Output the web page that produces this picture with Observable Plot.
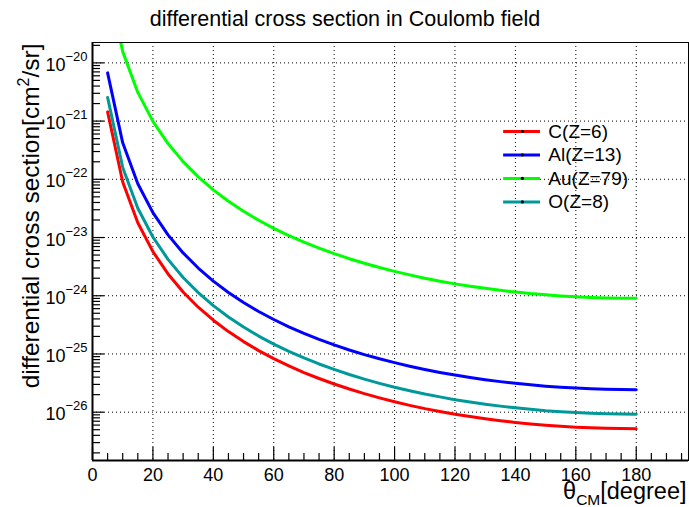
<!DOCTYPE html>
<html>
<head>
<meta charset="utf-8">
<script src="https://cdn.jsdelivr.net/npm/d3@7"></script>
<script src="https://cdn.jsdelivr.net/npm/@observablehq/plot@0.6"></script>
<style>
  html, body { margin: 0; padding: 0; background: #fff; }
</style>
</head>
<body>
<div id="chart"></div>
<script>
// Scattering angle in the centre-of-mass frame (degrees)
const theta = [5, 10, 15, 20, 25, 30, 35, 40, 45, 50, 55, 60, 65, 70, 75, 80, 85, 90,
  95, 100, 105, 110, 115, 120, 125, 130, 135, 140, 145, 150, 155, 160, 165, 170, 175, 180];

// Differential cross sections (cm^2/sr) for each target
const sigmaC = [1.44e-21, 9.01e-23, 1.79e-23, 5.72e-24, 2.37e-24, 1.16e-24, 6.36e-25, 3.80e-25, 2.42e-25, 1.63e-25,
  1.14e-25, 8.32e-26, 6.24e-26, 4.80e-26, 3.79e-26, 3.05e-26, 2.50e-26, 2.08e-26, 1.76e-26, 1.51e-26,
  1.31e-26, 1.15e-26, 1.03e-26, 9.24e-27, 8.40e-27, 7.71e-27, 7.14e-27, 6.67e-27, 6.29e-27, 5.97e-27,
  5.72e-27, 5.53e-27, 5.38e-27, 5.28e-27, 5.22e-27, 5.20e-27];
const sigmaAl = [6.74e-21, 4.23e-22, 8.41e-23, 2.68e-23, 1.11e-23, 5.44e-24, 2.99e-24, 1.78e-24, 1.14e-24, 7.65e-25,
  5.37e-25, 3.91e-25, 2.93e-25, 2.26e-25, 1.78e-25, 1.43e-25, 1.17e-25, 9.76e-26, 8.26e-26, 7.09e-26,
  6.16e-26, 5.42e-26, 4.82e-26, 4.34e-26, 3.94e-26, 3.62e-26, 3.35e-26, 3.13e-26, 2.95e-26, 2.80e-26,
  2.69e-26, 2.60e-26, 2.53e-26, 2.48e-26, 2.45e-26, 2.44e-26];
const sigmaAu = [2.49e-19, 1.56e-20, 3.11e-21, 9.91e-22, 4.11e-22, 2.01e-22, 1.10e-22, 6.59e-23, 4.20e-23, 2.83e-23,
  1.98e-23, 1.44e-23, 1.08e-23, 8.33e-24, 6.56e-24, 5.28e-24, 4.33e-24, 3.61e-24, 3.05e-24, 2.62e-24,
  2.28e-24, 2.00e-24, 1.78e-24, 1.60e-24, 1.46e-24, 1.34e-24, 1.24e-24, 1.16e-24, 1.09e-24, 1.04e-24,
  9.92e-25, 9.58e-25, 9.33e-25, 9.15e-25, 9.05e-25, 9.02e-25];
const sigmaO = [2.55e-21, 1.60e-22, 3.19e-23, 1.02e-23, 4.21e-24, 2.06e-24, 1.13e-24, 6.76e-25, 4.31e-25, 2.90e-25,
  2.03e-25, 1.48e-25, 1.11e-25, 8.54e-26, 6.73e-26, 5.42e-26, 4.44e-26, 3.70e-26, 3.13e-26, 2.68e-26,
  2.33e-26, 2.05e-26, 1.83e-26, 1.64e-26, 1.49e-26, 1.37e-26, 1.27e-26, 1.19e-26, 1.12e-26, 1.06e-26,
  1.02e-26, 9.83e-27, 9.57e-27, 9.39e-27, 9.28e-27, 9.24e-27];

const seriesNames = ["C(Z=6)", "Al(Z=13)", "Au(Z=79)", "O(Z=8)"];
const seriesColors = ["#ff0000", "#0000ff", "#00ff00", "#009999"];
const seriesValues = [sigmaC, sigmaAl, sigmaAu, sigmaO];

// Axis ticks and labels
const xTicks = [0, 20, 40, 60, 80, 100, 120, 140, 160, 180];
const xTickLabels = ["0", "20", "40", "60", "80", "100", "120", "140", "160", "180"];
const yDecades = [-26, -25, -24, -23, -22, -21, -20];
const yTickExponents = ["\u221226", "\u221225", "\u221224", "\u221223", "\u221222", "\u221221", "\u221220"];

const titleText = "differential cross section in Coulomb field";
const xTitle = "\u03b8CM[degree]";
const yTitle = "differential cross section[cm2/sr]";

// ---- layout ----
const W = 689, H = 507;
const mL = 92, mR = 1, mT = 42, mB = 47;
const frameW = W - mL - mR, frameH = H - mT - mB;
const xDomain = [0, 197.3];
const yDomain = [10 ** -26.83, 10 ** -19.65];

const xMinor = d3.range(5, 200, 5).filter(v => v % 20 !== 0);
const yMinor = [];
for (let e = -27; e <= -20; e++) for (let m = 2; m <= 9; m++) {
  const v = m * 10 ** e;
  if (v > yDomain[0] && v < yDomain[1]) yMinor.push(v);
}
const yMajor = yDecades.map(e => 10 ** e);

// legend placement in data coordinates (upper right of the frame)
const legendLogTop = -21.178, legendStep = 0.4036;
const legendY = seriesNames.map((_, i) => 10 ** (legendLogTop - legendStep * i));
const legendX1 = 136.1, legendX2 = 148.3, legendDotX = 142.3, legendTextX = 150.9;

const dotted = {stroke: "black", strokeWidth: 1, strokeDasharray: "1,3"};

const marks = [
  // grid
  Plot.ruleX(xTicks.filter(v => v > 0), {x: d => d, ...dotted}),
  Plot.ruleY(yMajor, {y: d => d, ...dotted}),
  // curves
  ...seriesValues.map((vals, i) =>
    Plot.line(vals, {x: theta, y: vals, stroke: seriesColors[i], strokeWidth: 3, clip: true})),
  // legend
  ...seriesNames.map((name, i) => Plot.ruleY([legendY[i]], {
    y: d => d, x1: legendX1, x2: legendX2, stroke: seriesColors[i], strokeWidth: 3})),
  Plot.dot(legendY, {x: () => legendDotX, y: d => d, r: 1.6, fill: "black", stroke: null}),
  Plot.text(seriesNames, {x: () => legendTextX, y: (d, i) => legendY[i], text: d => d,
    textAnchor: "start", lineAnchor: "middle", fontSize: 19}),
  // frame + axes lines
  Plot.frame({stroke: "black", strokeWidth: 1}),
  Plot.ruleX([xDomain[0]], {x: d => d, stroke: "black", strokeWidth: 2}),
  Plot.ruleY([yDomain[0]], {y: d => d, stroke: "black", strokeWidth: 2}),
  // x ticks (inward)
  Plot.tickX(xTicks, {x: d => d, insetTop: frameH - 13, stroke: "black", strokeWidth: 1.2}),
  Plot.tickX(xMinor, {x: d => d, insetTop: frameH - 7, stroke: "black", strokeWidth: 1.2}),
  // y ticks (inward)
  Plot.tickY(yMajor, {y: d => d, insetRight: frameW - 12, stroke: "black", strokeWidth: 1.2}),
  Plot.tickY(yMinor, {y: d => d, insetRight: frameW - 8, stroke: "black", strokeWidth: 1.2}),
  // tick labels
  Plot.text(xTicks, {x: d => d, text: (d, i) => xTickLabels[i], frameAnchor: "bottom",
    dy: 20, lineAnchor: "bottom", fontSize: 18}),
  Plot.text(yDecades, {y: d => 10 ** d, text: () => "10", frameAnchor: "left",
    textAnchor: "end", dx: -27, dy: 8, lineAnchor: "bottom", fontSize: 18}),
  Plot.text(yDecades, {y: d => 10 ** d, text: (d, i) => yTickExponents[i], frameAnchor: "left",
    textAnchor: "end", dx: -5, dy: -2, lineAnchor: "bottom", fontSize: 13}),
  // titles
  Plot.text([titleText], {text: d => d, frameAnchor: "top", dx: W / 2 - (mL + frameW / 2), dy: 25 - mT,
    lineAnchor: "bottom", fontSize: 21.5}),
  Plot.text([xTitle], {text: d => d, frameAnchor: "bottom-right", textAnchor: "end", dx: -2, dy: 38,
    lineAnchor: "bottom", fontSize: 23.5}),
  Plot.text([yTitle], {text: d => d, frameAnchor: "top-left", rotate: -90, textAnchor: "end",
    dx: 38 - mL, dy: 1, lineAnchor: "bottom", fontSize: 24.5})
];

const plot = Plot.plot({
  width: W, height: H,
  marginLeft: mL, marginRight: mR, marginTop: mT, marginBottom: mB,
  style: {fontFamily: "'Liberation Sans', Arial, Helvetica, sans-serif", background: "white", overflow: "visible", color: "black"},
  x: {domain: xDomain, axis: null},
  y: {type: "log", domain: yDomain, axis: null},
  marks
});
document.getElementById("chart").appendChild(plot);

// rich text: subscript / superscript in axis titles
const svg = d3.select(plot);
function richText(content, parts) {
  svg.selectAll("text").filter(function () { return this.textContent === content; })
    .each(function () {
      const t = d3.select(this);
      t.text(null);
      parts.forEach(p => {
        const s = t.append("tspan").text(p.text);
        if (p.size) s.attr("font-size", p.size);
        if (p.dy) s.attr("dy", p.dy);
      });
    });
}
richText(xTitle, [
  {text: "\u03b8", size: 23.5},
  {text: "CM", size: 15.5, dy: 6},
  {text: "[degree]", size: 23.5, dy: -6}
]);
richText(yTitle, [
  {text: "differential cross section[cm", size: 24.5},
  {text: "2", size: 16, dy: -10},
  {text: "/sr]", size: 24.5, dy: 10}
]);
</script>
</body>
</html>
